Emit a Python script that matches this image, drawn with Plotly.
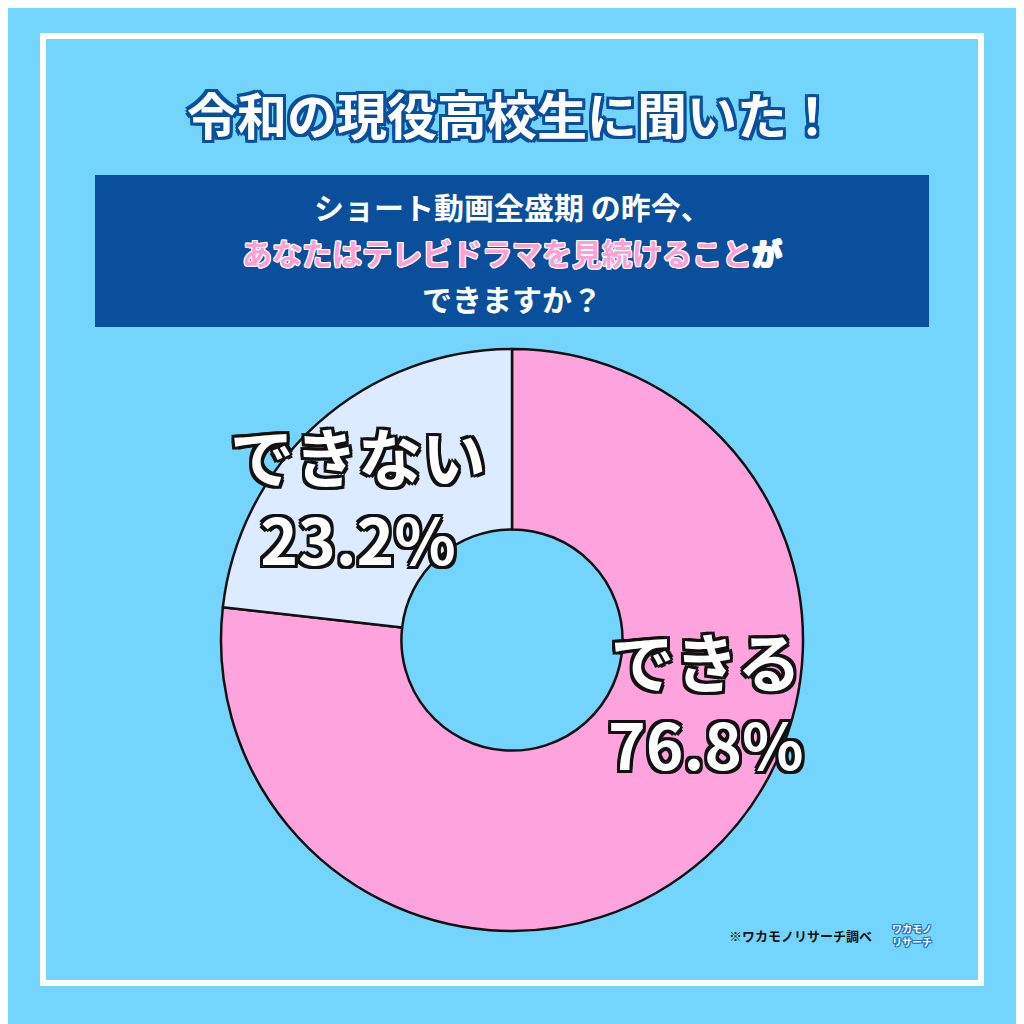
import plotly.graph_objects as go

labels = ["できる", "できない"]
values = [76.8, 23.2]
colors = ["#FFA3DE", "#DCEBFF"]

W = 1016
O = 8
def px(x, y):
    return (x - O) / W, 1 - (y - O) / W

cx, cy, R = 512, 640, 291
x0, y1 = px(cx - R, cy - R)
x1, y0 = px(cx + R, cy + R)

fig = go.Figure()
fig.add_trace(go.Pie(labels=labels, values=values, hole=0.38, sort=False,
    direction="clockwise", rotation=0, textinfo="none", hoverinfo="label+percent",
    marker=dict(colors=colors, line=dict(color="#111", width=2.5)),
    domain=dict(x=[x0, x1], y=[y0, y1]), showlegend=False))

F = "Noto Sans CJK JP"
def outline(c, w):
    s = []
    for dx in (-w, 0, w):
        for dy in (-w, 0, w):
            if dx or dy:
                s.append(f"{dx}px {dy}px 0 {c}")
    return ", ".join(s)

ann = []
def add(lx, ly, text, size, color, shadow=None):
    x, y = px(lx, ly)
    f = dict(family=F, size=size, color=color)
    if shadow:
        f["shadow"] = shadow
    ann.append(dict(x=x, y=y, xref="paper", yref="paper", xanchor="center", yanchor="middle",
                    text=text, showarrow=False, font=f))

add(512, 113, "<b>令和の現役高校生に聞いた！</b>", 50, "white", outline("#0A4F9C", 3))
add(512, 206, "<b>ショート動画全盛期 の昨今、</b>", 30, "white")
add(512, 252, "<b><span style='color:#FF9FD6'>あなたはテレビドラマを見続けること</span>が</b>", 30, "white", outline("white", 1))
add(512, 298, "<b>できますか？</b>", 30, "white")
add(358, 495, "<b>できない<br>23.2%</b>", 64, "white", outline("#111", 3))
add(706, 700, "<b>できる<br>76.8%</b>", 64, "white", outline("#111", 3))
add(800, 935, "<b>※ワカモノリサーチ調べ</b>", 13, "#111")
add(912, 935, "<b>ワカモノ<br>リサーチ</b>", 10, "white", outline("#1E73C8", 1))

bx0, by1 = px(43, 36)
bx1, by0 = px(981, 983)
tx0, ty1 = px(95, 175)
tx1, ty0 = px(929, 327)
shapes = [
    dict(type="rect", xref="paper", yref="paper", x0=bx0, x1=bx1, y0=by0, y1=by1,
         line=dict(color="white", width=6), layer="below"),
    dict(type="rect", xref="paper", yref="paper", x0=tx0, x1=tx1, y0=ty0, y1=ty1,
         fillcolor="#0A4F9C", line=dict(width=0), layer="below"),
]

fig.update_layout(width=W, height=W, margin=dict(l=0, r=0, t=0, b=0),
    paper_bgcolor="#74D5FC", plot_bgcolor="#74D5FC", annotations=ann, shapes=shapes)
fig.write_html("out.html")
